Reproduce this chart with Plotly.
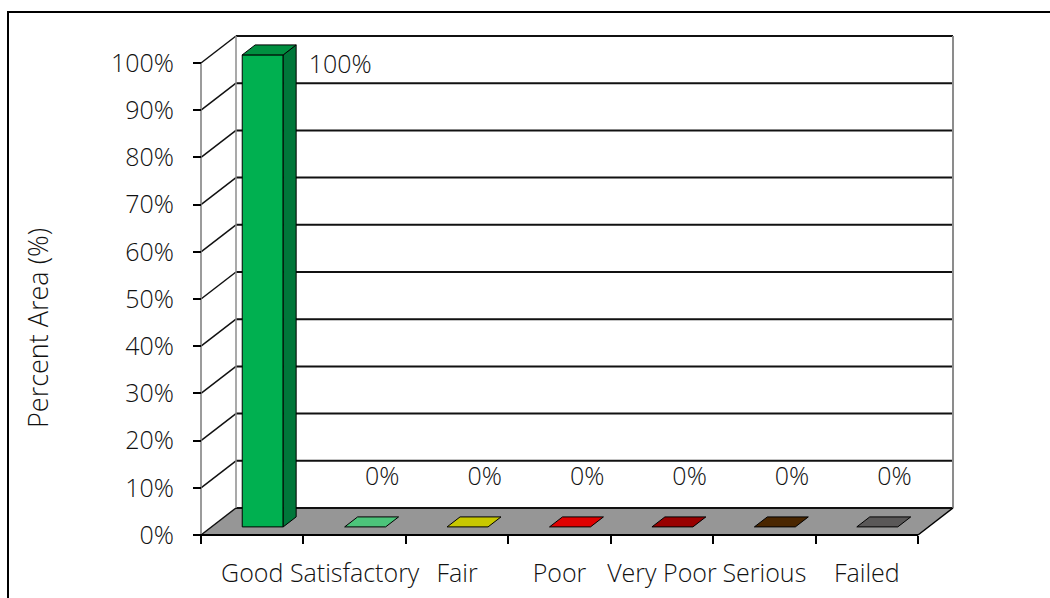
import plotly.graph_objects as go

# ---- data -------------------------------------------------------------
categories = ["Good", "Satisfactory", "Fair", "Poor", "Very Poor", "Serious", "Failed"]
percent_area = [100, 0, 0, 0, 0, 0, 0]
face_colors = ["#00B050", "#4CC47A", "#C8C800", "#E00000", "#990000", "#4A2600", "#5A5858"]
side_colors = ["#00773A", "#35955A", "#9A9A00", "#A80000", "#700000", "#341A00", "#403F3F"]
top_colors = ["#008F40", "#4CC47A", "#C8C800", "#E00000", "#990000", "#4A2600", "#5A5858"]
y_ticks = list(range(0, 101, 10))
y_tick_text = [f"{t}%" for t in y_ticks]

# ---- canvas / scale setup ---------------------------------------------
W, H = 1050, 598
PX_X0, PX_PER_CAT = 201.0, 102.43      # pixel of category boundary 0, pixels per category
PX_Y0, PX_PER_PCT = 535.0, 4.72        # pixel of 0 %, pixels per percent
x_range = [-PX_X0 / PX_PER_CAT, (W - PX_X0) / PX_PER_CAT]
y_range = [(PX_Y0 - H) / PX_PER_PCT, PX_Y0 / PX_PER_PCT]

# oblique depth of the 3-D box (in data units)
DX = 35.0 / PX_PER_CAT
DY = 27.0 / PX_PER_PCT
N = len(categories)
YMAX = y_ticks[-1]


def proj(x, v, d):
    """Project (category position, value, depth 0..1) onto the 2-D axes."""
    return x + d * DX, v + d * DY


def poly(points, fill, line_color="black", line_width=1.0):
    xs = [p[0] for p in points] + [points[0][0]]
    ys = [p[1] for p in points] + [points[0][1]]
    return go.Scatter(x=xs, y=ys, mode="lines", fill="toself", fillcolor=fill,
                      line=dict(color=line_color, width=line_width),
                      hoverinfo="skip", showlegend=False)


def seg(p, q, color="black", width=1.5):
    return go.Scatter(x=[p[0], q[0]], y=[p[1], q[1]], mode="lines",
                      line=dict(color=color, width=width),
                      hoverinfo="skip", showlegend=False)


traces = []

# back wall
traces.append(poly([proj(0, 0, 1), proj(N, 0, 1), proj(N, YMAX, 1), proj(0, YMAX, 1)],
                   "white", "rgba(0,0,0,0)", 0))
# floor
traces.append(poly([proj(0, 0, 0), proj(N, 0, 0), proj(N, 0, 1), proj(0, 0, 1)],
                   "#969696", "rgba(0,0,0,0)", 0))

# gridlines on the back wall and their continuation on the left wall
for t in y_ticks:
    traces.append(seg(proj(0, t, 1), proj(N, t, 1), "#111111", 2))
    traces.append(seg(proj(0, t, 0), proj(0, t, 1), "#111111", 1.5))

# wall edges
traces.append(seg(proj(0, 0, 1), proj(0, YMAX, 1), "#8c8c8c", 1.5))
traces.append(seg(proj(N, 0, 1), proj(N, YMAX, 1), "#8c8c8c", 2))
traces.append(seg(proj(0, 0, 0), proj(0, YMAX, 0), "#7a7a7a", 1.5))
# floor front and right edges
traces.append(seg(proj(0, 0, 0), proj(N, 0, 0), "black", 2))
traces.append(seg(proj(N, 0, 0), proj(N, 0, 1), "black", 1.5))

# 3-D columns
HALF_W = 0.2
D_FRONT, D_BACK = 0.30, 0.67
for i, v in enumerate(percent_area):
    c = i + 0.5
    xl, xr = c - HALF_W, c + HALF_W
    if v > 0:
        traces.append(poly([proj(xl, 0, D_FRONT), proj(xr, 0, D_FRONT),
                            proj(xr, v, D_FRONT), proj(xl, v, D_FRONT)], face_colors[i]))
        traces.append(poly([proj(xr, 0, D_FRONT), proj(xr, 0, D_BACK),
                            proj(xr, v, D_BACK), proj(xr, v, D_FRONT)], side_colors[i]))
    traces.append(poly([proj(xl, v, D_FRONT), proj(xr, v, D_FRONT),
                        proj(xr, v, D_BACK), proj(xl, v, D_BACK)], top_colors[i]))

FONT = dict(family="Open Sans", size=25, color="#111111", weight=300)

# value labels
label_x, label_y, label_txt = [], [], []
for i, v in enumerate(percent_area):
    c = i + 0.5
    if v >= YMAX:
        lx, ly = c + 0.86, v - 0.8
    else:
        lx, ly = c + 0.27, v + 12
    label_x.append(lx)
    label_y.append(ly)
    label_txt.append(f"{v}%")
traces.append(go.Scatter(x=label_x, y=label_y, mode="text", text=label_txt,
                         textfont=FONT, textposition="middle center",
                         hoverinfo="skip", showlegend=False, cliponaxis=False))

# invisible trace carrying the boundary-tick axis
traces.append(go.Scatter(x=[0], y=[0], xaxis="x2", mode="markers",
                         marker=dict(opacity=0), hoverinfo="skip", showlegend=False))

fig = go.Figure(traces)

axis_pos_x = (H - PX_Y0) / H
fig.update_layout(
    width=W, height=H,
    margin=dict(l=0, r=0, t=0, b=0, pad=0),
    paper_bgcolor="white", plot_bgcolor="white",
    font=FONT,
    xaxis=dict(range=x_range, domain=[0, 1], anchor="free", position=axis_pos_x,
               tickmode="array", tickvals=[i + 0.5 for i in range(N)], ticktext=categories,
               ticks="", showgrid=False, zeroline=False, showline=False,
               ticklabelstandoff=21, tickfont=FONT, automargin=False, fixedrange=True),
    xaxis2=dict(range=x_range, domain=[0, 1], overlaying="x", anchor="free",
                position=axis_pos_x, tickmode="array", tickvals=list(range(N + 1)),
                ticks="outside", ticklen=8, tickwidth=1.5, tickcolor="black",
                showticklabels=False, showgrid=False, zeroline=False, showline=False,
                automargin=False, side="bottom"),
    yaxis=dict(range=y_range, domain=[0, 1], anchor="free", position=PX_X0 / W,
               tickmode="array", tickvals=y_ticks, ticktext=y_tick_text,
               ticks="outside", ticklen=8, tickwidth=1.5, tickcolor="black",
               showgrid=False, zeroline=False, showline=False,
               ticklabelstandoff=14, tickfont=FONT, automargin=False, fixedrange=True),
    annotations=[dict(text="Percent Area (%)", textangle=-90, xref="paper", yref="paper",
                      x=37 / W, y=1 - 328 / H, showarrow=False,
                      font=dict(FONT, size=27),
                      xanchor="center", yanchor="middle")],
    shapes=[dict(type="rect", xref="paper", yref="paper",
                 x0=8 / W, x1=1.05, y0=-0.05, y1=1 - 12 / H,
                 line=dict(color="black", width=2), fillcolor="rgba(0,0,0,0)", layer="above")],
)

fig.write_html("out.html")
